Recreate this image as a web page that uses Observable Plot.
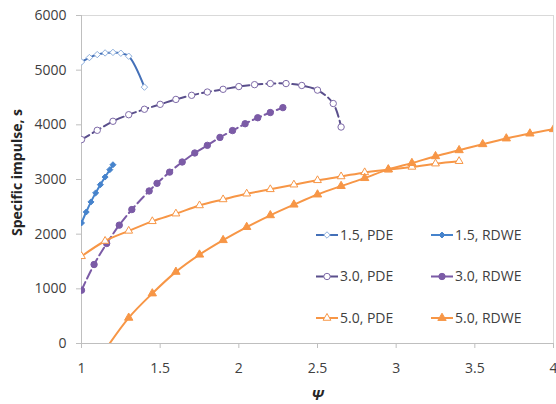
<!DOCTYPE html>
<html>
<head>
<meta charset="utf-8">
<script src="https://cdn.jsdelivr.net/npm/d3@7"></script>
<script src="https://cdn.jsdelivr.net/npm/@observablehq/plot@0.6"></script>
<style>
  body { margin: 0; background: #fff; }
  #chart { position: relative; width: 556px; height: 404px; font-family: "Open Sans", sans-serif; }
  #legend { position: absolute; left: 310px; top: 214px; overflow: visible; }
</style>
</head>
<body>
<div id="chart"></div>
<script>
// Specific impulse (s) versus psi for PDE and RDWE cycles at three pressure ratios
const pde15X  = [1.0, 1.05, 1.1, 1.15, 1.2, 1.25, 1.3, 1.4];
const pde15Y  = [5150, 5230, 5285, 5315, 5325, 5310, 5255, 4690];

const rdwe15X = [1.0, 1.03, 1.06, 1.09, 1.12, 1.15, 1.18, 1.2];
const rdwe15Y = [2205, 2405, 2590, 2755, 2905, 3045, 3180, 3270];

const pde30X  = [1.0, 1.1, 1.2, 1.3, 1.4, 1.5, 1.6, 1.7, 1.8, 1.9, 2.0, 2.1, 2.2, 2.3, 2.4, 2.5, 2.6, 2.65];
const pde30Y  = [3730, 3900, 4065, 4185, 4285, 4375, 4465, 4540, 4600, 4650, 4700, 4735, 4755, 4755, 4720, 4635, 4390, 3960];

const rdwe30X = [1.0, 1.08, 1.16, 1.24, 1.32, 1.43, 1.48, 1.56, 1.64, 1.72, 1.8, 1.88, 1.96, 2.04, 2.12, 2.2, 2.28];
const rdwe30Y = [975, 1445, 1830, 2165, 2450, 2790, 2930, 3135, 3320, 3485, 3625, 3770, 3895, 4020, 4130, 4225, 4315];

const pde50X  = [1.0, 1.15, 1.3, 1.45, 1.6, 1.75, 1.9, 2.05, 2.2, 2.35, 2.5, 2.65, 2.8, 2.95, 3.1, 3.25, 3.4];
const pde50Y  = [1595, 1875, 2060, 2235, 2375, 2525, 2635, 2740, 2820, 2905, 2985, 3055, 3130, 3180, 3230, 3290, 3335];

const rdwe50X = [1.15, 1.3, 1.45, 1.6, 1.75, 1.9, 2.05, 2.2, 2.35, 2.5, 2.65, 2.8, 2.95, 3.1, 3.25, 3.4, 3.55, 3.7, 3.85, 4.0];
const rdwe50Y = [-120, 470, 915, 1310, 1625, 1890, 2130, 2345, 2540, 2725, 2880, 3025, 3185, 3300, 3425, 3535, 3645, 3750, 3840, 3920];

const seriesLabels = ["1.5, PDE", "1.5, RDWE", "3.0, PDE", "3.0, RDWE", "5.0, PDE", "5.0, RDWE"];
const xTicks = [1, 1.5, 2, 2.5, 3, 3.5, 4];
const yTicks = [0, 1000, 2000, 3000, 4000, 5000, 6000];
const xTitle = "\u03A8";
const yTitle = "Specific impulse, s";

// drawing styles for each series, in legend order
const styles = [
  {line: "#4470b8", stroke: "#8fb0dc", fill: "white",   symbol: "diamond2", r: 2.9, dash: null},
  {line: "#4683cc", stroke: "#4683cc", fill: "#4683cc", symbol: "diamond2", r: 2.7, dash: null},
  {line: "#5a4f8c", stroke: "#7e6aa8", fill: "white",   symbol: "circle",   r: 3.2, dash: "9,4"},
  {line: "#7b5ba6", stroke: "#7b5ba6", fill: "#7b5ba6", symbol: "circle",   r: 3.2, dash: "9,4"},
  {line: "#f79646", stroke: "#f79646", fill: "white",   symbol: "triangle", r: 2.9, dash: null},
  {line: "#f79646", stroke: "#f79646", fill: "#f79646", symbol: "triangle", r: 3.1, dash: null}
];

const xs = [pde15X, rdwe15X, pde30X, rdwe30X, pde50X, rdwe50X];
const ys = [pde15Y, rdwe15Y, pde30Y, rdwe30Y, pde50Y, rdwe50Y];

const series = seriesLabels.map((label, i) => ({
  label,
  style: styles[i],
  rows: xs[i].map((x, j) => ({x, y: ys[i][j]}))
}));

const seriesMarks = series.flatMap(s => [
  Plot.line(s.rows, {
    x: "x", y: "y", curve: "catmull-rom", stroke: s.style.line, strokeWidth: 2,
    strokeDasharray: s.style.dash, clip: true
  }),
  Plot.dot(s.rows, {
    x: "x", y: "y", symbol: s.style.symbol, r: s.style.r,
    fill: s.style.fill, stroke: s.style.stroke, strokeWidth: 1, clip: true
  })
]);

const chart = Plot.plot({
  width: 556,
  height: 404,
  marginLeft: 81,
  marginRight: 3,
  marginTop: 15,
  marginBottom: 61,
  style: {fontFamily: "'Open Sans', sans-serif", fontSize: "14px", color: "#404040", background: "white"},
  x: {domain: [1, 4]},
  y: {domain: [0, 6000]},
  marks: [
    Plot.frame({stroke: "#d9d9d9"}),
    Plot.ruleY([0], {stroke: "#bfbfbf"}),
    Plot.ruleX([1], {stroke: "#bfbfbf"}),
    Plot.axisX({ticks: xTicks, tickSize: 5, tickPadding: 15, tickFormat: d => String(d), stroke: "#bfbfbf", fill: "#404040", label: null}),
    Plot.axisY({ticks: yTicks, tickSize: 5, tickPadding: 10, tickFormat: d => String(d), stroke: "#bfbfbf", fill: "#404040", label: null}),
    Plot.text([xTitle], {
      frameAnchor: "bottom", dy: 52, fontWeight: "bold", fontStyle: "italic",
      fontSize: 15, fill: "#262626", lineAnchor: "middle", textAnchor: "middle"
    }),
    Plot.text([yTitle], {
      frameAnchor: "left", dx: -64, dy: -7, rotate: -90, fontWeight: "bold",
      fontSize: 14, fill: "#262626", textAnchor: "middle", lineAnchor: "middle"
    }),
    ...seriesMarks
  ]
});

const root = document.getElementById("chart");
root.appendChild(chart);

// legend: two columns, three rows, inside the plot area
const legend = d3.select(root).append("svg")
  .attr("id", "legend").attr("width", 246).attr("height", 126);

series.forEach((s, i) => {
  const col = i % 2, row = Math.floor(i / 2);
  const g = legend.append("g")
    .attr("transform", `translate(${6 + col * 115},${21 + row * 41.5})`);
  g.append("line")
    .attr("x1", 0).attr("x2", 22).attr("y1", 0).attr("y2", 0)
    .attr("stroke", s.style.line).attr("stroke-width", 2)
    .attr("stroke-dasharray", s.style.dash);
  const sym = {diamond2: d3.symbolDiamond2, circle: d3.symbolCircle, triangle: d3.symbolTriangle}[s.style.symbol];
  g.append("path")
    .attr("transform", "translate(11,0)")
    .attr("d", d3.symbol(sym, Math.PI * s.style.r * s.style.r)())
    .attr("fill", s.style.fill).attr("stroke", s.style.stroke);
  g.append("text")
    .attr("x", 24).attr("dy", "0.35em")
    .attr("font-family", "'Open Sans', sans-serif").attr("font-size", 14)
    .attr("fill", "#404040")
    .text(s.label);
});
</script>
</body>
</html>
